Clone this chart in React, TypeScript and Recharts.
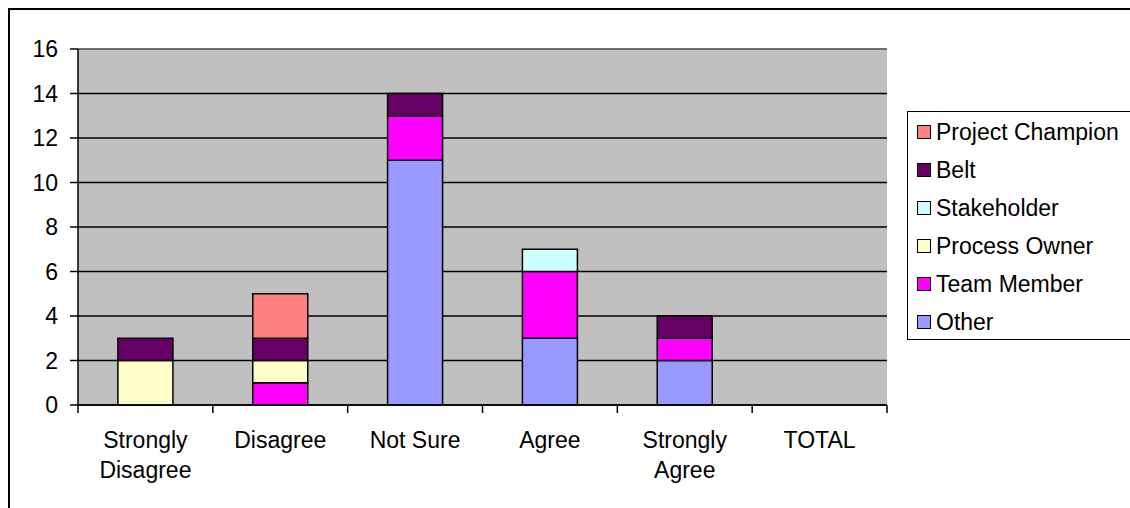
import React from 'react';
import { BarChart, Bar, XAxis, YAxis, CartesianGrid, ReferenceLine, Legend } from 'recharts';

const FONT = '"Liberation Sans", Arial, Helvetica, sans-serif';

// Response categories along the x axis, with how each label wraps
const categories = ['Strongly Disagree', 'Disagree', 'Not Sure', 'Agree', 'Strongly Agree', 'TOTAL'];
const categoryLabelLines = [
  ['Strongly', 'Disagree'],
  ['Disagree'],
  ['Not Sure'],
  ['Agree'],
  ['Strongly', 'Agree'],
  ['TOTAL'],
];

// Respondent counts per role, one value per category
const other = [0, 0, 11, 3, 2, 0];
const teamMember = [0, 1, 2, 3, 1, 0];
const processOwner = [2, 1, 0, 0, 0, 0];
const stakeholder = [0, 0, 0, 1, 0, 0];
const belt = [1, 1, 1, 0, 1, 0];
const projectChampion = [0, 2, 0, 0, 0, 0];

const yTicks = [0, 2, 4, 6, 8, 10, 12, 14, 16];

// Stack order, bottom to top
const series = [
  { key: 'other', name: 'Other', color: '#9999FF', values: other },
  { key: 'teamMember', name: 'Team Member', color: '#FF00FF', values: teamMember },
  { key: 'processOwner', name: 'Process Owner', color: '#FFFFCC', values: processOwner },
  { key: 'stakeholder', name: 'Stakeholder', color: '#CCFFFF', values: stakeholder },
  { key: 'belt', name: 'Belt', color: '#660066', values: belt },
  { key: 'projectChampion', name: 'Project Champion', color: '#FF8080', values: projectChampion },
];

const data = categories.map((category, i) => {
  const row: Record<string, string | number> = { category };
  series.forEach((s) => {
    row[s.key] = s.values[i];
  });
  return row;
});

const WIDTH = 1122;
const HEIGHT = 500;

// Category label with tick marks on the band boundaries
const CategoryTick = (props: any) => {
  const { x, y, payload } = props;
  const idx = categories.indexOf(payload.value);
  const half = payload.offset ?? 0;
  const lines = categoryLabelLines[idx] ?? [String(payload.value)];
  return (
    <g>
      <line x1={x - half} x2={x - half} y1={y} y2={y + 8} stroke="#000" strokeWidth={1.5} />
      {idx === categories.length - 1 && (
        <line x1={x + half} x2={x + half} y1={y} y2={y + 8} stroke="#000" strokeWidth={1.5} />
      )}
      {lines.map((line, i) => (
        <text
          key={line}
          x={x}
          y={y + 43 + i * 30}
          textAnchor="middle"
          fill="#000"
          fontSize={23}
          fontFamily={FONT}
        >
          {line}
        </text>
      ))}
    </g>
  );
};

const LegendBox = () => (
  <div
    style={{
      boxSizing: 'border-box',
      width: 240,
      height: 229,
      border: '1px solid #000',
      background: '#fff',
      paddingTop: 1,
      fontFamily: FONT,
      fontSize: 23,
      color: '#000',
    }}
  >
    {[...series].reverse().map((s) => (
      <div
        key={s.key}
        style={{ height: 38, display: 'flex', alignItems: 'center', whiteSpace: 'nowrap' }}
      >
        <span
          style={{
            display: 'inline-block',
            boxSizing: 'border-box',
            width: 14,
            height: 14,
            marginLeft: 9,
            marginRight: 5,
            border: '1.5px solid #000',
            background: s.color,
          }}
        />
        <span>{s.name}</span>
      </div>
    ))}
  </div>
);

export default function App() {
  return (
    <div
      style={{
        position: 'fixed',
        left: 8,
        top: 8,
        width: WIDTH,
        height: HEIGHT,
        overflow: 'hidden',
        background: '#fff',
      }}
    >
      <div
        style={{
          position: 'absolute',
          left: 0,
          top: 0,
          width: WIDTH,
          height: HEIGHT,
          boxSizing: 'border-box',
          borderTop: '2px solid #000',
          borderLeft: '2px solid #000',
        }}
      />
      <div style={{ position: 'absolute', left: 0, top: 0 }}>
        <BarChart
          width={WIDTH}
          height={HEIGHT}
          data={data}
          margin={{ top: 41, right: 243, bottom: 0, left: 0 }}
          barCategoryGap="29.6%"
        >
          <CartesianGrid vertical={false} fill="#C0C0C0" stroke="#000" strokeWidth={1.5} />
          <XAxis
            dataKey="category"
            height={103}
            interval={0}
            tickSize={0}
            tickMargin={0}
            tickLine={false}
            axisLine={{ stroke: '#000', strokeWidth: 1.5 }}
            tick={<CategoryTick />}
          />
          <YAxis
            type="number"
            domain={[0, 16]}
            ticks={yTicks}
            interval={0}
            width={70}
            tickSize={8}
            tickMargin={12}
            axisLine={{ stroke: '#000', strokeWidth: 1.5 }}
            tickLine={{ stroke: '#000', strokeWidth: 1.5 }}
            tick={{ fill: '#000', fontSize: 23, fontFamily: FONT }}
          />
          {series.map((s) => (
            <Bar
              key={s.key}
              dataKey={s.key}
              name={s.name}
              stackId="roles"
              fill={s.color}
              stroke="#000"
              strokeWidth={1.5}
              isAnimationActive={false}
            />
          ))}
          <ReferenceLine y={16} stroke="#808080" strokeWidth={1.5} />
          <ReferenceLine x="TOTAL" position="end" stroke="#808080" strokeWidth={1.5} />
          <Legend
            layout="vertical"
            align="center"
            verticalAlign="middle"
            content={<LegendBox />}
            wrapperStyle={{ left: 899, top: 103, width: 240, height: 229 }}
          />
        </BarChart>
      </div>
    </div>
  );
}
